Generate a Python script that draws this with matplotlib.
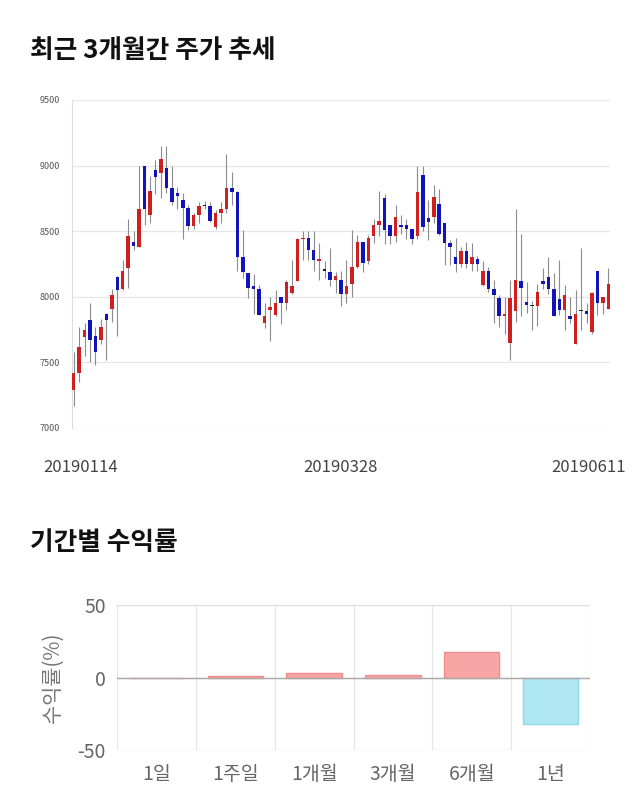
import numpy as np
import matplotlib
matplotlib.use('Agg')
import matplotlib.pyplot as plt

plt.rcParams['font.family'] = ['Noto Sans CJK KR', 'DejaVu Sans']
plt.rcParams['axes.unicode_minus'] = False

# 일봉 데이터 (시가, 고가, 저가, 종가)
opens = [7290, 7420, 7690, 7820, 7700, 7670, 7870, 7910, 8150, 8060,
         8220, 8420, 8380, 9000, 8620, 8970, 8940, 8980, 8830, 8790,
         8740, 8680, 8540, 8620, 8690, 8690, 8530, 8640, 8670, 8830,
         8800, 8300, 8180, 8080, 8060, 7800, 7900, 7860, 8000, 7950,
         8030, 8120, 8440, 8450, 8360, 8270, 8200, 8190, 8130, 8130,
         8020, 8100, 8230, 8420, 8270, 8460, 8550, 8750, 8550, 8460,
         8550, 8550, 8520, 8460, 8930, 8600, 8610, 8710, 8560, 8410,
         8300, 8250, 8350, 8250, 8290, 8090, 8200, 8060, 7990, 7850,
         7650, 7890, 8120, 7960, 7930, 7930, 8120, 8150, 8060, 7980,
         7900, 7850, 7640, 7890, 7890, 7730, 8200, 7950, 7910]
highs = [7580, 7770, 7800, 7950, 7770, 7830, 7880, 8060, 8160, 8280,
         8590, 8500, 9000, 9000, 8920, 9040, 9150, 9150, 9000, 8840,
         8790, 8700, 8640, 8720, 8730, 8720, 8660, 8720, 9090, 8950,
         8810, 8510, 8180, 8170, 8090, 7950, 8000, 8050, 8000, 8130,
         8280, 8450, 8500, 8500, 8500, 8410, 8270, 8370, 8190, 8200,
         8280, 8510, 8470, 8420, 8470, 8590, 8810, 8780, 8550, 8700,
         8620, 8590, 8520, 9000, 9000, 8740, 8850, 8820, 8560, 8430,
         8450, 8380, 8420, 8410, 8310, 8270, 8230, 8130, 8010, 8000,
         8130, 8670, 8480, 8110, 7970, 8100, 8220, 8300, 8180, 8280,
         8090, 8000, 8050, 8370, 7950, 8040, 8200, 8000, 8220]
lows = [7170, 7350, 7550, 7500, 7480, 7640, 7520, 7810, 7700, 8050,
        8070, 8360, 8380, 8550, 8560, 8780, 8750, 8790, 8700, 8670,
        8440, 8510, 8520, 8560, 8670, 8570, 8520, 8560, 8640, 8700,
        8200, 8140, 7990, 7870, 7860, 7760, 7660, 7850, 7790, 7900,
        8020, 8120, 8280, 8280, 8200, 8130, 8140, 8080, 8030, 7930,
        7950, 8000, 8220, 8190, 8250, 8410, 8460, 8400, 8400, 8420,
        8480, 8440, 8400, 8440, 8500, 8430, 8560, 8470, 8240, 8240,
        8190, 8230, 8220, 8200, 8200, 8080, 8040, 7800, 7770, 7720,
        7520, 7810, 7850, 7880, 7750, 7780, 8060, 8020, 7850, 7860,
        7750, 7800, 7640, 7750, 7800, 7720, 7860, 7870, 7910]
closes = [7420, 7620, 7750, 7670, 7580, 7770, 7820, 8010, 8050, 8200,
          8460, 8390, 8670, 8670, 8810, 8910, 9050, 8830, 8720, 8770,
          8680, 8540, 8620, 8690, 8690, 8580, 8640, 8670, 8830, 8800,
          8300, 8190, 8070, 8060, 7860, 7850, 7920, 7950, 7950, 8110,
          8080, 8440, 8450, 8360, 8280, 8290, 8200, 8130, 8160, 8020,
          8080, 8230, 8420, 8260, 8450, 8550, 8580, 8510, 8460, 8610,
          8530, 8520, 8440, 8800, 8530, 8570, 8760, 8480, 8410, 8380,
          8250, 8350, 8250, 8300, 8250, 8200, 8060, 8010, 7850, 7870,
          7990, 8130, 8070, 7940, 7930, 8040, 8100, 8060, 7850, 7900,
          8010, 7830, 7870, 7890, 7870, 8030, 7950, 8000, 8100]
date_labels = ['20190114', '20190328', '20190611']

# 기간별 수익률
periods = ['1일', '1주일', '1개월', '3개월', '6개월', '1년']
returns = [0.0, 0.7, 3.0, 2.0, 17.5, -31.8]

fig = plt.figure(figsize=(6.4, 8.1), dpi=100)

# ---- 주가 추세 ----
fig.text(30 / 640, 1 - 50 / 810, '최근 3개월간 주가 추세', fontsize=18.5,
         fontweight='bold', va='center', ha='left', color='#111111')
ax = fig.add_axes([72 / 640, 1 - 428 / 810, 538 / 640, 328 / 810])
n = len(opens)
x = np.arange(n)
o = np.array(opens)
h = np.array(highs)
l = np.array(lows)
c = np.array(closes)
cols = np.where(c > o, '#d01f1f', np.where(c < o, '#1313bb', '#222222'))
ax.vlines(x, l, h, color='#8c8c8c', linewidth=0.8, zorder=2)
body = np.where(np.abs(c - o) < 10, 10, c - o)
ax.bar(x, body, bottom=o, width=0.64, color=cols, zorder=3)
ax.set_xlim(-0.3, n - 0.7)
ax.set_ylim(7000, 9500)
ax.set_yticks([7000, 7500, 8000, 8500, 9000, 9500])
ax.tick_params(axis='y', length=0, labelsize=6.5, labelcolor='#555555', pad=9)
ax.grid(axis='y', color='#e6e6e6', linewidth=0.9)
ax.set_axisbelow(True)
for s in ['top', 'right', 'bottom']:
    ax.spines[s].set_visible(False)
ax.spines['left'].set_color('#dddddd')
ax.set_xticks([1.3, 49, 94.3])
ax.set_xticklabels(date_labels)
ax.tick_params(axis='x', length=0, labelsize=12, labelcolor='#444444', pad=22)

# ---- 기간별 수익률 ----
fig.text(30 / 640, 1 - 543 / 810, '기간별 수익률', fontsize=18.5,
         fontweight='bold', va='center', ha='left', color='#111111')
ax2 = fig.add_axes([117 / 640, 1 - 750 / 810, 473 / 640, 145 / 810])
px = np.arange(len(periods))
bcols = ['#f9a5a5' if v >= 0 else '#aee7f2' for v in returns]
ecols = ['#f18d8d' if v >= 0 else '#93d6e6' for v in returns]
ax2.bar(px, returns, width=0.7, color=bcols, edgecolor=ecols, linewidth=1, zorder=3)
ax2.set_xlim(-0.5, len(periods) - 0.5)
ax2.set_ylim(-50, 50)
ax2.set_yticks([-50, 0, 50])
ax2.set_xticks(px)
ax2.set_xticklabels(periods)
ax2.set_xticks(np.arange(len(periods) + 1) - 0.5, minor=True)
ax2.tick_params(axis='both', which='both', length=0, labelsize=14, labelcolor='#666666')
ax2.tick_params(axis='x', pad=10)
ax2.tick_params(axis='y', pad=8)
ax2.grid(axis='x', which='minor', color='#e6e6e6', linewidth=0.9)
ax2.grid(axis='y', which='major', color='#dddddd', linewidth=0.9)
ax2.axhline(0, color='#aaaaaa', linewidth=1, zorder=4)
ax2.set_axisbelow(True)
for s in ax2.spines.values():
    s.set_visible(False)
ax2.set_ylabel('수익률(%)', fontsize=15, color='#777777', labelpad=10)

fig.savefig('out.png', dpi=100)
